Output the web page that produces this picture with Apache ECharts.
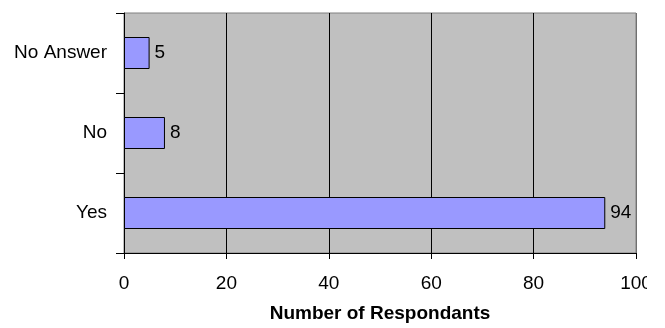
<!DOCTYPE html>
<html>
<head>
<meta charset="utf-8">
<script src="https://cdn.jsdelivr.net/npm/echarts@6/dist/echarts.min.js"></script>
<style>
  html, body { margin: 0; padding: 0; background: #fff; }
  #chart { width: 665px; height: 328px; }
</style>
</head>
<body>
<div id="chart"></div>
<script>
// Survey answers, listed bottom to top on the category axis
const categories = ['Yes', 'No', 'No Answer'];
const respondents = [94, 8, 5];
const xTicks = [0, 20, 40, 60, 80, 100];

const FONT = 'Liberation Sans, Arial, sans-serif';
const FS = 19;

const chart = echarts.init(document.getElementById('chart'), null, { renderer: 'canvas' });
chart.setOption({
  animation: false,
  grid: {
    left: 124, top: 13, width: 512, height: 247,
    show: true,
    backgroundColor: '#C0C0C0',
    borderColor: '#808080',
    borderWidth: 1
  },
  xAxis: {
    type: 'value',
    min: xTicks[0],
    max: xTicks[xTicks.length - 1],
    interval: 20,
    name: 'Number of Respondants',
    nameLocation: 'middle',
    nameGap: 51,
    nameTextStyle: { fontFamily: FONT, fontSize: FS, fontWeight: 'bold', color: '#000' },
    axisLine: { show: true, lineStyle: { color: '#000', width: 1 } },
    axisTick: { show: true, length: 6, lineStyle: { color: '#000' } },
    axisLabel: { margin: 21, fontFamily: FONT, fontSize: FS, color: '#000' },
    // black grid lines inside, the right edge keeps the grey frame colour
    splitLine: {
      show: true,
      lineStyle: { color: ['#000', '#000', '#000', '#000', '#000', '#707070'], width: 1 }
    }
  },
  yAxis: {
    type: 'category',
    data: categories,
    axisLine: { show: true, lineStyle: { color: '#000', width: 1 } },
    axisTick: { show: true, length: 8, alignWithLabel: false, lineStyle: { color: '#000' } },
    axisLabel: { margin: 17, fontFamily: FONT, fontSize: FS, color: '#000' },
    splitLine: { show: false }
  },
  series: [{
    type: 'bar',
    data: respondents,
    barCategoryGap: '60%',
    itemStyle: { color: '#9999FF', borderColor: '#000', borderWidth: 1 },
    label: {
      show: true,
      position: 'right',
      distance: 5,
      fontFamily: FONT,
      fontSize: FS,
      color: '#000'
    }
  }],
  graphic: [{
    type: 'rect',
    right: 0, top: 0,
    shape: { width: 18, height: 328 },
    style: { fill: '#fff' },
    z: 100
  }]
});
</script>
</body>
</html>
